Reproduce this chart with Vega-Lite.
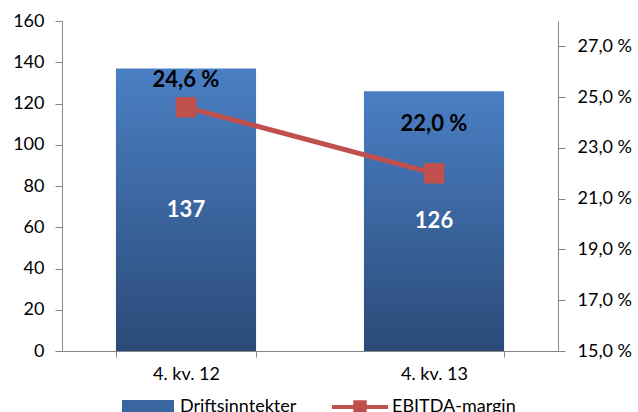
{
  "$schema": "https://vega.github.io/schema/vega-lite/v6.json",
  "autosize": {"type": "none"},
  "width": 496,
  "height": 330,
  "padding": {"left": 62, "top": 21, "right": 80, "bottom": 61},
  "background": "white",
  "config": {
    "view": {"stroke": null},
    "font": "Lato",
    "axis": {
      "domainColor": "#868686",
      "tickColor": "#868686",
      "labelColor": "#000000",
      "labelFont": "Lato",
      "labelFontSize": 18,
      "grid": false,
      "title": null
    }
  },
  "data": {
    "values": [
      {"period": "4. kv. 12", "revenue": 137, "margin": 24.6},
      {"period": "4. kv. 13", "revenue": 126, "margin": 22.0}
    ]
  },
  "encoding": {
    "x": {
      "field": "period",
      "type": "nominal",
      "sort": null,
      "scale": {"paddingInner": 0.435, "paddingOuter": 0.2175},
      "axis": {
        "labelAngle": 0,
        "tickBand": "extent",
        "tickSize": 6,
        "labelPadding": 8,
        "title": null
      }
    }
  },
  "layer": [
    {
      "mark": {
        "type": "bar",
        "fill": {
          "gradient": "linear",
          "x1": 0, "y1": 0, "x2": 0, "y2": 1,
          "stops": [
            {"offset": 0, "color": "#4A7FC4"},
            {"offset": 1, "color": "#2B4A78"}
          ]
        }
      },
      "encoding": {
        "y": {
          "field": "revenue",
          "type": "quantitative",
          "scale": {"domain": [0, 160], "nice": false},
          "axis": {
            "orient": "left",
            "values": [0, 20, 40, 60, 80, 100, 120, 140, 160],
            "tickSize": 7,
            "labelPadding": 11
          }
        }
      }
    },
    {
      "mark": {
        "type": "text",
        "color": "white",
        "fontWeight": "bold",
        "fontSize": 22,
        "baseline": "middle"
      },
      "encoding": {
        "y": {
          "field": "revenue",
          "type": "quantitative",
          "scale": {"domain": [0, 320], "nice": false},
          "axis": null
        },
        "text": {"field": "revenue", "type": "quantitative"}
      }
    },
    {
      "mark": {
        "type": "line",
        "strokeWidth": 5,
        "point": {"shape": "square", "size": 420, "filled": true}
      },
      "encoding": {
        "y": {
          "field": "margin",
          "type": "quantitative",
          "scale": {"domain": [15, 28], "nice": false, "zero": false},
          "axis": {
            "orient": "right",
            "values": [15, 17, 19, 21, 23, 25, 27],
            "labelExpr": "replace(format(datum.value, '.1f'), '.', ',') + ' %'",
            "tickSize": 7,
            "labelPadding": 12
          }
        },
        "color": {
          "datum": "EBITDA-margin",
          "scale": {
            "domain": ["Driftsinntekter", "EBITDA-margin"],
            "range": ["#3A66A0", "#C0504D"]
          },
          "legend": {
            "title": null,
            "orient": "none",
            "direction": "horizontal",
            "columns": 2,
            "legendX": 58,
            "legendY": 358,
            "padding": 0,
            "symbolSize": 3136,
            "labelFontSize": 18,
            "labelFont": "Lato",
            "labelColor": "#000000",
            "labelOffset": 4,
            "columnPadding": 35,
            "encode": {
              "symbols": {
                "update": {
                  "shape": {"signal": "datum.value === 'Driftsinntekter' ? 'M-0.93,-0.25H0.93V0.25H-0.93Z' : 'M-1,-0.075H1V0.075H-1Z M-0.24,-0.24H0.24V0.24H-0.24Z'"},
                  "fill": {"signal": "datum.value === 'Driftsinntekter' ? {gradient: 'linear', x1: 0, y1: 0, x2: 0, y2: 1, stops: [{offset: 0, color: '#4A7FC4'}, {offset: 1, color: '#2B4A78'}]} : '#C0504D'"},
                  "stroke": {"value": "transparent"},
                  "strokeWidth": {"value": 0},
                  "opacity": {"value": 1}
                }
              }
            }
          }
        }
      }
    },
    {
      "transform": [{"filter": "datum.period === '4. kv. 12'"}],
      "mark": {
        "type": "text",
        "fontWeight": "bold",
        "fontSize": 22,
        "color": "#000000",
        "baseline": "middle",
        "dy": -27,
        "text": {"expr": "replace(format(datum.margin, '.1f'), '.', ',') + ' %'"}
      },
      "encoding": {
        "y": {
          "field": "margin",
          "type": "quantitative",
          "scale": {"domain": [15, 28], "nice": false, "zero": false},
          "axis": null
        }
      }
    },
    {
      "transform": [{"filter": "datum.period === '4. kv. 13'"}],
      "mark": {
        "type": "text",
        "fontWeight": "bold",
        "fontSize": 22,
        "color": "#000000",
        "baseline": "middle",
        "dy": -49,
        "text": {"expr": "replace(format(datum.margin, '.1f'), '.', ',') + ' %'"}
      },
      "encoding": {
        "y": {
          "field": "margin",
          "type": "quantitative",
          "scale": {"domain": [15, 28], "nice": false, "zero": false},
          "axis": null
        }
      }
    }
  ],
  "resolve": {"scale": {"y": "independent"}}
}
